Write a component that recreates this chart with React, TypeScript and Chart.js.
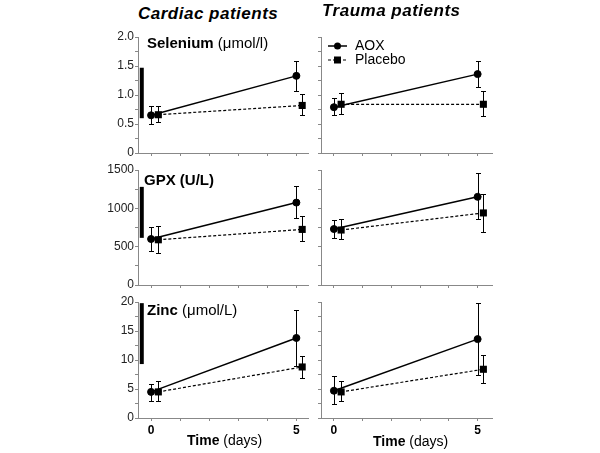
import React, { useEffect, useRef } from 'react';
import { Chart, registerables } from 'chart.js';
Chart.register(...registerables);

// ---------- data ----------
const timeAOX = [0, 5];
const timePlacebo = [0.25, 5.2];
const xTicks = [0, 1, 2, 3, 4, 5];
const xTickLabels = ['0', '', '', '', '', '5'];

const seleniumTicks = [0, 0.25, 0.5, 0.75, 1, 1.25, 1.5, 1.75, 2];
const seleniumTickLabels = ['0', '', '0.5', '', '1.0', '', '1.5', '', '2.0'];
const gpxTicks = [0, 250, 500, 750, 1000, 1250, 1500];
const gpxTickLabels = ['0', '', '500', '', '1000', '', '1500'];
const zincTicks = [0, 2.5, 5, 7.5, 10, 12.5, 15, 17.5, 20];
const zincTickLabels = ['0', '', '5', '', '10', '', '15', '', '20'];

// Cardiac patients
const cardSeAOX = [0.65, 1.33];
const cardSeAOXHi = [0.81, 1.59];
const cardSeAOXLo = [0.5, 1.07];
const cardSePla = [0.66, 0.82];
const cardSePlaHi = [0.81, 1.01];
const cardSePlaLo = [0.53, 0.65];

const cardGpxAOX = [600, 1075];
const cardGpxAOXHi = [756, 1291];
const cardGpxAOXLo = [443, 874];
const cardGpxPla = [590, 725];
const cardGpxPlaHi = [770, 900];
const cardGpxPlaLo = [417, 574];

const cardZnAOX = [4.5, 13.8];
const cardZnAOXHi = [5.9, 18.6];
const cardZnAOXLo = [2.9, 9.0];
const cardZnPla = [4.5, 8.8];
const cardZnPlaHi = [6.4, 10.7];
const cardZnPlaLo = [2.9, 6.9];

// Trauma patients
const traSeAOX = [0.79, 1.36];
const traSeAOXHi = [0.95, 1.59];
const traSeAOXLo = [0.66, 1.14];
const traSePla = [0.84, 0.84];
const traSePlaHi = [1.03, 1.07];
const traSePlaLo = [0.67, 0.64];

const traGpxAOX = [730, 1150];
const traGpxAOXHi = [848, 1460];
const traGpxAOXLo = [613, 861];
const traGpxPla = [717, 940];
const traGpxPlaHi = [861, 1187];
const traGpxPlaLo = [600, 691];

const traZnAOX = [4.7, 13.6];
const traZnAOXHi = [7.2, 19.8];
const traZnAOXLo = [2.4, 7.4];
const traZnPla = [4.5, 8.4];
const traZnPlaHi = [6.4, 10.9];
const traZnPlaLo = [2.9, 6.0];

// normal ranges (thick bars)
const seleniumRange = [0.6, 1.47];
const gpxRange = [615, 1280];
const zincRange = [9.3, 19.8];
const rangeX = -0.32;

// ---------- plugins ----------
const errorBarPlugin = {
  id: 'errorBars',
  beforeDatasetsDraw(chart: any) {
    const ctx = chart.ctx;
    const xs = chart.scales.x;
    const ys = chart.scales.y;
    ctx.save();
    ctx.strokeStyle = '#000';
    ctx.lineWidth = 1;
    chart.data.datasets.forEach((ds: any) => {
      if (!ds.errHi) return;
      ds.data.forEach((p: any, i: number) => {
        const px = Math.round(xs.getPixelForValue(p.x)) + 0.5;
        const top = Math.round(ys.getPixelForValue(ds.errHi[i])) + 0.5;
        const bot = Math.round(ys.getPixelForValue(ds.errLo[i])) + 0.5;
        ctx.beginPath();
        ctx.moveTo(px, top);
        ctx.lineTo(px, bot);
        ctx.moveTo(px - 2.5, top);
        ctx.lineTo(px + 2.5, top);
        ctx.moveTo(px - 2.5, bot);
        ctx.lineTo(px + 2.5, bot);
        ctx.stroke();
      });
    });
    ctx.restore();
  },
};

const legendPlugin = {
  id: 'miniLegend',
  afterDraw(chart: any) {
    const o = chart.options.plugins.miniLegend;
    if (!o || !o.show) return;
    const ctx = chart.ctx;
    const a = chart.chartArea;
    const x1 = a.left + 7;
    const x2 = a.left + 26;
    const xm = (x1 + x2) / 2;
    const y1 = a.top + 9;
    const y2 = a.top + 23;
    ctx.save();
    ctx.strokeStyle = '#000';
    ctx.fillStyle = '#000';
    ctx.lineWidth = 1.5;
    ctx.beginPath();
    ctx.moveTo(x1, y1);
    ctx.lineTo(x2, y1);
    ctx.stroke();
    ctx.beginPath();
    ctx.arc(xm, y1, 3.5, 0, Math.PI * 2);
    ctx.fill();
    ctx.lineWidth = 1.2;
    ctx.setLineDash([3, 2]);
    ctx.beginPath();
    ctx.moveTo(x1, y2);
    ctx.lineTo(x2, y2);
    ctx.stroke();
    ctx.setLineDash([]);
    ctx.fillRect(xm - 3.5, y2 - 3.5, 7, 7);
    ctx.font = '14px "Liberation Sans", Arial, sans-serif';
    ctx.textBaseline = 'middle';
    ctx.textAlign = 'left';
    ctx.fillText(o.labels[0], a.left + 34, y1 + 0.5);
    ctx.fillText(o.labels[1], a.left + 34, y2 + 0.5);
    ctx.restore();
  },
};

// ---------- panel ----------
type PanelProps = {
  left: number; top: number; width: number; height: number;
  padTop: number; padRight: number; yWidth: number; xHeight: number;
  xMax: number; yMax: number;
  yTicks: number[]; yLabels: string[] | null; showX: boolean;
  aox: number[]; aoxHi: number[]; aoxLo: number[];
  pla: number[]; plaHi: number[]; plaLo: number[];
  range?: number[]; legend?: boolean;
};

function Panel(p: PanelProps) {
  const ref = useRef<HTMLCanvasElement>(null);
  useEffect(() => {
    if (!ref.current) return;
    const datasets: any[] = [
      {
        label: 'AOX',
        data: timeAOX.map((t, i) => ({ x: t, y: p.aox[i] })),
        errHi: p.aoxHi, errLo: p.aoxLo,
        borderColor: '#000', borderWidth: 1.5, tension: 0,
        pointStyle: 'circle', pointRadius: 3.5,
        pointBackgroundColor: '#000', pointBorderColor: '#000', pointBorderWidth: 1,
      },
      {
        label: 'Placebo',
        data: timePlacebo.map((t, i) => ({ x: t, y: p.pla[i] })),
        errHi: p.plaHi, errLo: p.plaLo,
        borderColor: '#000', borderWidth: 1.2, borderDash: [3, 2], tension: 0,
        pointStyle: 'rect', pointRadius: 5,
        pointBackgroundColor: '#000', pointBorderColor: '#000', pointBorderWidth: 0,
      },
    ];
    if (p.range) {
      datasets.push({
        label: 'range',
        data: [{ x: rangeX, y: p.range[0] }, { x: rangeX, y: p.range[1] }],
        borderColor: '#000', borderWidth: 4, borderCapStyle: 'butt', pointRadius: 0,
      });
    }
    const chart = new Chart(ref.current, {
      type: 'line',
      data: { datasets },
      plugins: [errorBarPlugin, legendPlugin],
      options: {
        responsive: false,
        animation: false,
        events: [],
        layout: { padding: { top: p.padTop, right: p.padRight, left: 0, bottom: 0 } },
        plugins: {
          legend: { display: false },
          tooltip: { enabled: false },
          miniLegend: { show: !!p.legend, labels: ['AOX', 'Placebo'] },
        } as any,
        scales: {
          x: {
            type: 'linear',
            min: -0.45,
            max: p.xMax,
            afterBuildTicks: (s: any) => { s.ticks = xTicks.map((v) => ({ value: v })); },
            afterFit: (s: any) => { s.height = p.xHeight; },
            ticks: {
              display: p.showX,
              autoSkip: false,
              maxRotation: 0,
              padding: 2,
              color: '#000',
              font: { family: '"Liberation Sans", Arial, sans-serif', size: 12, weight: 'bold' },
              callback: (v: any) => xTickLabels[xTicks.indexOf(Number(v))] ?? '',
            },
            grid: { drawOnChartArea: false, drawTicks: true, tickLength: 3, color: '#888', lineWidth: 1 },
            border: { color: '#888', width: 1 },
          },
          y: {
            type: 'linear',
            min: 0,
            max: p.yMax,
            afterBuildTicks: (s: any) => { s.ticks = p.yTicks.map((v) => ({ value: v })); },
            afterFit: (s: any) => { s.width = p.yWidth; },
            ticks: {
              display: !!p.yLabels,
              autoSkip: false,
              padding: 1,
              color: '#222',
              font: { family: '"Liberation Sans", Arial, sans-serif', size: 12 },
              callback: (v: any) => {
                if (!p.yLabels) return '';
                const i = p.yTicks.findIndex((t) => Math.abs(t - Number(v)) < 1e-9);
                return i >= 0 ? p.yLabels[i] : '';
              },
            },
            grid: { drawOnChartArea: false, drawTicks: true, tickLength: 3, color: '#888', lineWidth: 1 },
            border: { color: '#888', width: 1 },
          },
        },
      } as any,
    });
    return () => chart.destroy();
  }, []);
  return (
    <div style={{ position: 'absolute', left: p.left, top: p.top, width: p.width, height: p.height }}>
      <canvas ref={ref} width={p.width} height={p.height} style={{ display: 'block' }} />
    </div>
  );
}

const ff = '"Liberation Sans", Arial, Helvetica, sans-serif';

function Text(props: { left: number; top: number; size: number; children: any; style?: any }) {
  return (
    <div
      style={{
        position: 'absolute', left: props.left, top: props.top, fontFamily: ff,
        fontSize: props.size, lineHeight: props.size + 'px', color: '#000', whiteSpace: 'nowrap',
        ...(props.style || {}),
      }}
    >
      {props.children}
    </div>
  );
}

export default function App() {
  const L = { left: 95, width: 220, yWidth: 43, padRight: 7, xMax: 5.4 };
  const R = { left: 300, width: 200, yWidth: 21, padRight: 8, xMax: 5.5 };
  const rows = [
    { top: 25, height: 145, padTop: 12, xHeight: 17 },
    { top: 158, height: 145, padTop: 12, xHeight: 18 },
    { top: 290, height: 160, padTop: 12, xHeight: 32 },
  ];
  const titleStyle = { fontWeight: 'bold', fontStyle: 'italic', letterSpacing: '0.5px' };
  return (
    <div style={{ position: 'absolute', left: 0, top: 0, width: 600, height: 453, background: '#fff', overflow: 'hidden' }}>
      {/* Selenium */}
      <Panel {...L} {...rows[0]} yMax={2} yTicks={seleniumTicks} yLabels={seleniumTickLabels} showX={false}
        aox={cardSeAOX} aoxHi={cardSeAOXHi} aoxLo={cardSeAOXLo} pla={cardSePla} plaHi={cardSePlaHi} plaLo={cardSePlaLo}
        range={seleniumRange} />
      <Panel {...R} {...rows[0]} yMax={2} yTicks={seleniumTicks} yLabels={null} showX={false}
        aox={traSeAOX} aoxHi={traSeAOXHi} aoxLo={traSeAOXLo} pla={traSePla} plaHi={traSePlaHi} plaLo={traSePlaLo}
        legend />
      {/* GPX */}
      <Panel {...L} {...rows[1]} yMax={1500} yTicks={gpxTicks} yLabels={gpxTickLabels} showX={false}
        aox={cardGpxAOX} aoxHi={cardGpxAOXHi} aoxLo={cardGpxAOXLo} pla={cardGpxPla} plaHi={cardGpxPlaHi} plaLo={cardGpxPlaLo}
        range={gpxRange} />
      <Panel {...R} {...rows[1]} yMax={1500} yTicks={gpxTicks} yLabels={null} showX={false}
        aox={traGpxAOX} aoxHi={traGpxAOXHi} aoxLo={traGpxAOXLo} pla={traGpxPla} plaHi={traGpxPlaHi} plaLo={traGpxPlaLo} />
      {/* Zinc */}
      <Panel {...L} {...rows[2]} yMax={20} yTicks={zincTicks} yLabels={zincTickLabels} showX={true}
        aox={cardZnAOX} aoxHi={cardZnAOXHi} aoxLo={cardZnAOXLo} pla={cardZnPla} plaHi={cardZnPlaHi} plaLo={cardZnPlaLo}
        range={zincRange} />
      <Panel {...R} {...rows[2]} yMax={20} yTicks={zincTicks} yLabels={null} showX={true}
        aox={traZnAOX} aoxHi={traZnAOXHi} aoxLo={traZnAOXLo} pla={traZnPla} plaHi={traZnPlaHi} plaLo={traZnPlaLo} />

      <Text left={138} top={5} size={17} style={titleStyle}>Cardiac patients</Text>
      <Text left={322} top={2} size={17} style={titleStyle}>Trauma patients</Text>

      <Text left={147} top={35} size={15}><b>Selenium</b> (μmol/l)</Text>
      <Text left={144} top={172} size={15}><b>GPX (U/L)</b></Text>
      <Text left={147} top={302} size={15}><b>Zinc</b> (μmol/L)</Text>

      <Text left={187} top={433} size={14}><b>Time</b> (days)</Text>
      <Text left={373} top={434} size={14}><b>Time</b> (days)</Text>
    </div>
  );
}
